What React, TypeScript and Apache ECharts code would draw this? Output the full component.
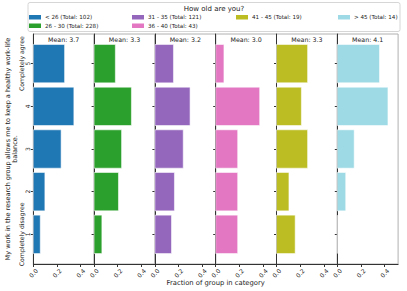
import React, { useEffect, useRef } from "react";
import * as echarts from "echarts";

const levels = [1, 2, 3, 4, 5];
const groupNames = ["< 26", "26 - 30", "31 - 35", "36 - 40", "41 - 45", "> 45"];
const groupTotals = [102, 228, 121, 43, 19, 14];
// counts per answer level 1..5
const countsLt26 = [6, 10, 24, 35, 27];
const counts26to30 = [15, 47, 53, 72, 41];
const counts31to35 = [17, 20, 29, 36, 19];
const counts36to40 = [8, 8, 8, 16, 3];
const counts41to45 = [3, 2, 5, 4, 5];
const countsGt45 = [0, 1, 2, 6, 5];
const groupMeans = [3.7, 3.3, 3.2, 3.0, 3.3, 4.1];
const xTicks = [0, 0.2, 0.4];
const colors = ["#1f77b4", "#2ca02c", "#9467bd", "#e377c2", "#bcbd22", "#9edae5"];

const allCounts = [countsLt26, counts26to30, counts31to35, counts36to40, counts41to45, countsGt45];

const FONT = "DejaVu Sans";

export default function App() {
  const ref = useRef<HTMLDivElement>(null);
  useEffect(() => {
    const chart = echarts.init(ref.current!, null, { renderer: "svg" });
    const fractions = allCounts.map((c, i) => c.map((v) => v / groupTotals[i]));
    const xMax = Math.max(...fractions.flat()) * 1.2;
    const yMin = 0.305;
    const yMax = 5.695;
    const L = 33.3;
    const W = 60.8;
    const T = 34;
    const H = 230;
    const names = groupNames.map((g, i) => `${g} (Total: ${groupTotals[i]})`);

    const grids: any[] = [];
    const xAxes: any[] = [];
    const yAxes: any[] = [];
    const series: any[] = [];
    const graphics: any[] = [];

    for (let i = 0; i < 6; i++) {
      grids.push({
        left: L + i * W,
        top: T,
        width: W,
        height: H,
        show: true,
        borderColor: "#b0b0b0",
        borderWidth: 1,
        backgroundColor: "transparent",
      });
      xAxes.push({
        type: "value",
        gridIndex: i,
        min: 0,
        max: xMax,
        splitLine: { show: false },
        axisLine: { show: true, lineStyle: { color: "#333", width: 1 } },
        axisTick: { show: true, length: 3, customValues: xTicks, lineStyle: { color: "#333" } },
        axisLabel: {
          customValues: xTicks,
          rotate: 45,
          align: "center",
          verticalAlign: "middle",
          margin: 9,
          fontSize: 6,
          fontFamily: FONT,
          color: "#222",
          formatter: (v: number) => v.toFixed(1),
        },
      });
      yAxes.push({
        type: "value",
        gridIndex: i,
        min: yMin,
        max: yMax,
        splitLine: { show: false },
        axisLine: { show: true, lineStyle: { color: "#333", width: 1 } },
        axisTick: { show: true, length: 2.5, customValues: levels, lineStyle: { color: "#333" } },
        axisLabel: {
          show: i === 0,
          customValues: levels,
          rotate: 90,
          margin: 3,
          fontSize: 6,
          fontFamily: FONT,
          color: "#222",
          formatter: (v: number) => String(v),
        },
      });
      const color = colors[i];
      series.push({
        type: "custom",
        name: names[i],
        xAxisIndex: i,
        yAxisIndex: i,
        itemStyle: { color },
        data: levels.map((lv, k) => [fractions[i][k], lv]),
        renderItem: (params: any, api: any) => {
          const x = api.value(0);
          const y = api.value(1);
          const p0 = api.coord([0, y + 0.45]);
          const p1 = api.coord([x, y - 0.45]);
          return {
            type: "rect",
            shape: { x: p0[0], y: p0[1], width: p1[0] - p0[0], height: p1[1] - p0[1] },
            style: { fill: color, stroke: "rgba(255,255,255,0.7)", lineWidth: 0.8 },
          };
        },
      });
      graphics.push({
        type: "text",
        x: L + i * W + W / 2,
        y: 39.5,
        style: {
          text: `Mean: ${groupMeans[i].toFixed(1)}`,
          font: `6.3px ${FONT}`,
          fill: "#222",
          align: "center",
          verticalAlign: "middle",
        },
      });
    }

    // extra y axis for "Completely agree/disagree"
    yAxes.push({
      type: "value",
      gridIndex: 0,
      min: yMin,
      max: yMax,
      position: "left",
      splitLine: { show: false },
      axisLine: { show: false },
      axisTick: { show: false },
      axisLabel: {
        customValues: [1, 5],
        rotate: 90,
        margin: 9,
        fontSize: 6.2,
        fontFamily: FONT,
        color: "#222",
        formatter: (v: number) => (v === 1 ? "Completely disagree" : "Completely agree"),
      },
    });

    graphics.unshift({
      type: "rect",
      z: -1,
      shape: { x: 28, y: 2.5, width: 372, height: 29, r: 2 },
      style: { fill: "#fff", stroke: "#d6d6d6", lineWidth: 1 },
    });
    graphics.push({
      type: "text",
      x: 214,
      y: 9,
      style: {
        text: "How old are you?",
        font: `7px ${FONT}`,
        fill: "#222",
        align: "center",
        verticalAlign: "middle",
      },
    });
    graphics.push({
      type: "text",
      x: 11.5,
      y: 149,
      rotation: Math.PI / 2,
      style: {
        text: "My work in the research group allows me to keep a healthy work-life\nbalance.",
        font: `6.5px ${FONT}`,
        fill: "#222",
        align: "center",
        verticalAlign: "middle",
        lineHeight: 7.8,
      },
    });
    graphics.push({
      type: "text",
      x: L + 3 * W,
      y: 283,
      style: {
        text: "Fraction of group in category",
        font: `6.8px ${FONT}`,
        fill: "#222",
        align: "center",
        verticalAlign: "middle",
      },
    });

    const legendCols = [
      { left: 29, data: [names[0], names[1]] },
      { left: 132, data: [names[2], names[3]] },
      { left: 236, data: [names[4]] },
      { left: 338, data: [names[5]] },
    ];
    const legends = legendCols.map((c) => ({
      left: c.left,
      top: 13.5,
      orient: "vertical",
      padding: 0,
      itemGap: 1,
      itemWidth: 12,
      itemHeight: 4.5,
      icon: "rect",
      data: c.data,
      textStyle: { fontSize: 5.6, fontFamily: FONT, color: "#222", padding: [0, 0, 0, -1], lineHeight: 7.5 },
    }));

    chart.setOption({
      animation: false,
      grid: grids,
      xAxis: xAxes,
      yAxis: yAxes,
      series,
      legend: legends,
      graphic: graphics,
    });
    return () => chart.dispose();
  }, []);
  return (
    <div
      ref={ref}
      style={{ position: "fixed", left: 0, top: 0, width: 407, height: 291, background: "#fff" }}
    />
  );
}
